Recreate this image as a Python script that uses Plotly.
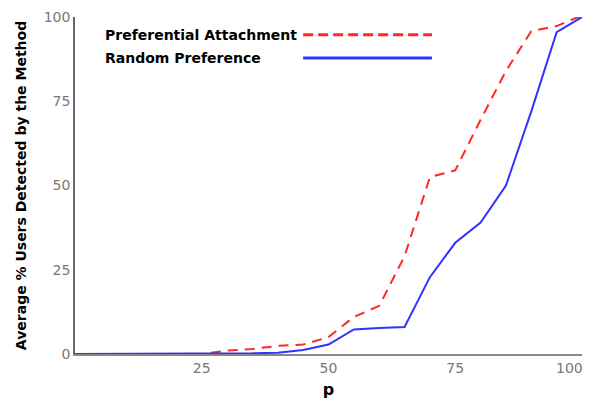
import plotly.graph_objects as go

p_values = [0, 5, 10, 15, 20, 25, 30, 35, 40, 45, 50, 55, 60, 65, 70, 75, 80, 85, 90, 95, 100]
pref_attach = [0, 0, 0, 0, 0, 0, 1.0, 1.5, 2.4, 2.8, 5.0, 11.0, 14.3, 29, 52.5, 54.5, 69.5, 84, 95.8, 97.3, 100.5]
random_pref = [0, 0, 0, 0, 0, 0, 0, 0.2, 0.4, 1.2, 2.8, 7.3, 7.7, 8.0, 22.8, 33, 39, 50, 72, 95.5, 100]
x_ticks = [25, 50, 75]
x_last_tick = 100
y_ticks = [0, 25, 50, 75, 100]
series_names = ["Preferential Attachment", "Random Preference"]

FONT = "DejaVu Sans"
RED = "rgb(255,40,40)"
BLUE = "rgb(50,50,255)"
TICKFONT = dict(family=FONT, size=14, color="#777")

fig = go.Figure()
fig.add_trace(go.Scatter(x=p_values, y=pref_attach, mode="lines", name=series_names[0],
                         line=dict(color=RED, width=2, dash="10px,7px"), cliponaxis=False))
fig.add_trace(go.Scatter(x=p_values, y=random_pref, mode="lines", name=series_names[1],
                         line=dict(color=BLUE, width=2), cliponaxis=False))

# custom legend (text left, sample line right)
leg_rows = [(0.947, RED, "10px,5px"), (0.878, BLUE, "solid")]
for name, (yy, col, dash) in zip(series_names, leg_rows):
    fig.add_annotation(x=0.055, y=yy, xref="paper", yref="paper", text=name, showarrow=False,
                       xanchor="left", yanchor="middle",
                       font=dict(family=FONT, size=14, color="black", weight="bold"))
    fig.add_shape(type="line", xref="paper", yref="paper", x0=0.45, x1=0.704, y0=yy, y1=yy,
                  line=dict(color=col, width=3, dash=dash))

# last x tick label, kept inside the page edge
fig.add_annotation(x=x_last_tick, y=0, xref="x", yref="paper", text=str(x_last_tick),
                   showarrow=False, xanchor="right", yanchor="top", xshift=3, yshift=-4,
                   font=TICKFONT)

fig.update_layout(
    width=585, height=391,
    margin=dict(l=67, r=11, t=9, b=45),
    plot_bgcolor="white", paper_bgcolor="white",
    showlegend=False,
    font=dict(family=FONT),
)
fig.update_xaxes(range=[0, 100], tickvals=x_ticks,
                 showgrid=False, zeroline=False,
                 showline=True, linecolor="#888", linewidth=1.5, ticks="",
                 automargin=False, ticklabeloverflow="allow",
                 tickfont=TICKFONT,
                 title=dict(text="p", font=dict(family=FONT, size=16, color="black", weight="bold"), standoff=9))
fig.update_yaxes(range=[0, 100], tickvals=y_ticks, showgrid=False, zeroline=False,
                 showline=True, linecolor="#666", linewidth=1.5, ticks="",
                 automargin=False, ticklabeloverflow="allow",
                 tickfont=TICKFONT,
                 title=dict(text="Average % Users Detected by the Method",
                            font=dict(family=FONT, size=14, color="black", weight="bold"), standoff=14))

fig.write_html("out.html")
